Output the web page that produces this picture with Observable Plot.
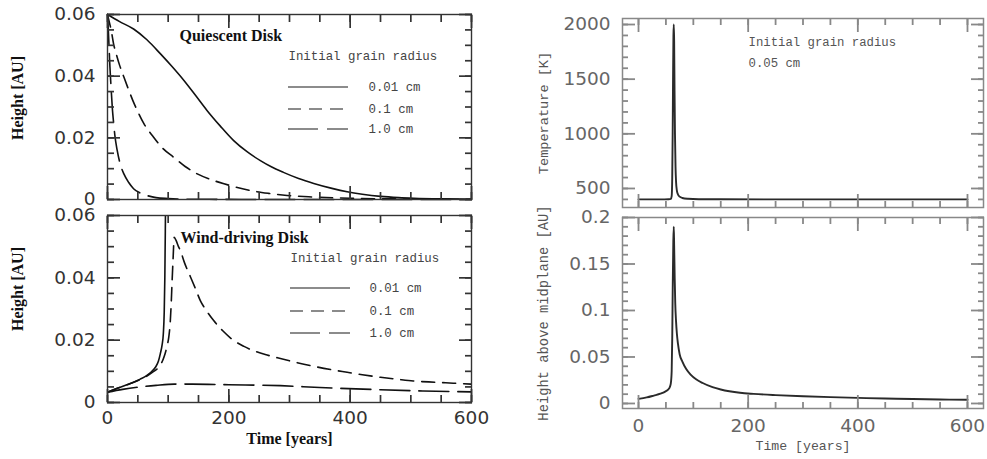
<!DOCTYPE html>
<html><head><meta charset="utf-8">
<script src="https://cdn.jsdelivr.net/npm/d3@7"></script>
<script src="https://cdn.jsdelivr.net/npm/@observablehq/plot@0.6"></script>
<style>
html,body{margin:0;padding:0;background:#fff;}
#chart{position:relative;width:987px;height:459px;overflow:hidden;background:#fff;}
#chart > svg{position:absolute;overflow:visible;background:transparent;}
</style></head><body><div id="chart"></div>
<script>
// ---------- Data ----------
// Quiescent disk (top-left)
const qTime001 = [0, 20, 43, 65, 87, 106, 126, 145, 164, 186, 208, 230, 252, 270, 290, 315, 340, 370, 395, 420, 450, 480, 505, 550, 600];
const qH001    = [0.06, 0.0577, 0.0553, 0.0518, 0.0473, 0.0432, 0.0386, 0.0338, 0.0289, 0.0238, 0.0191, 0.0155, 0.0126, 0.0106, 0.0088, 0.0068, 0.0052, 0.0036, 0.0025, 0.0017, 0.0010, 0.0006, 0.0004, 0.0002, 0.0001];
const qTime01  = [0, 3, 6, 10, 15, 20, 27, 35, 42, 49, 60, 76, 90, 109, 128, 148, 170, 192, 214, 236, 265, 296, 340, 400, 470, 540, 600];
const qH01     = [0.06, 0.0575, 0.055, 0.0505, 0.0468, 0.0435, 0.0397, 0.0355, 0.0320, 0.0289, 0.0246, 0.0202, 0.0168, 0.0137, 0.0107, 0.0083, 0.0065, 0.0051, 0.0039, 0.0029, 0.0020, 0.0013, 0.0008, 0.0004, 0.0002, 0.0001, 0.0001];
const qTime10  = [0, 1, 2, 3, 4, 6, 8, 10, 12, 16, 21, 27, 35, 43, 55, 65, 80, 100, 130, 180, 250, 600];
const qH10     = [0.06, 0.0565, 0.052, 0.0475, 0.043, 0.036, 0.0295, 0.025, 0.021, 0.0159, 0.0115, 0.0083, 0.0055, 0.0035, 0.002, 0.0013, 0.0006, 0.0003, 0.0001, 0.00005, 0, 0];
// Wind-driving disk (bottom-left)
const wTime001 = [0, 10, 21, 32, 43, 54, 65, 72, 79, 84, 87, 90, 92, 93.5, 94.5, 95.3, 96, 97];
const wH001    = [0.0033, 0.0041, 0.0049, 0.0057, 0.0065, 0.0075, 0.0087, 0.0098, 0.0113, 0.0133, 0.0156, 0.0185, 0.022, 0.029, 0.04, 0.055, 0.07, 0.085];
const wTime01  = [0, 10, 21, 32, 43, 54, 65, 75, 85, 93, 98, 101, 103.5, 105, 106.5, 108, 110, 113, 117, 120, 127, 137, 145, 153, 163, 175, 190, 208, 225, 241, 260, 285, 310, 340, 370, 395, 420, 450, 480, 504, 540, 570, 600];
const wH01     = [0.0033, 0.0041, 0.0049, 0.0057, 0.0065, 0.0074, 0.0085, 0.0098, 0.0115, 0.0145, 0.018, 0.021, 0.026, 0.0317, 0.039, 0.0456, 0.053, 0.052, 0.050, 0.0488, 0.0448, 0.0402, 0.0365, 0.0327, 0.0295, 0.0263, 0.0230, 0.0199, 0.0180, 0.0166, 0.0154, 0.0141, 0.0129, 0.0116, 0.0105, 0.0097, 0.0089, 0.0081, 0.0074, 0.0069, 0.0065, 0.0062, 0.0059];
const wTime10  = [0, 25, 50, 80, 110, 140, 200, 285, 350, 450, 520, 600];
const wH10     = [0.0033, 0.0042, 0.0049, 0.0055, 0.0059, 0.0059, 0.0057, 0.0054, 0.0048, 0.0041, 0.0037, 0.0034];
// Grain of 0.05 cm (right)
const tTime = [0, 30, 55, 59, 60.5, 61.5, 62.3, 63, 63.7, 64.3, 65, 65.7, 66.5, 67.5, 68.5, 70, 72, 75, 80, 90, 110, 150, 300, 600];
const tempK = [400, 400, 401, 405, 430, 600, 1000, 1500, 1900, 2000, 1850, 1400, 1000, 700, 560, 480, 445, 425, 413, 406, 402, 401, 400, 400];
const hTime = [0, 15, 28, 40, 48, 54, 57, 59, 60.5, 61.5, 62.5, 63.5, 64.3, 65, 66, 67, 68.5, 70, 72, 75, 80, 87, 95, 105, 117, 135, 150, 185, 210, 250, 300, 350, 400, 450, 500, 550, 600];
const hAbove = [0.005, 0.0065, 0.0085, 0.0105, 0.0125, 0.015, 0.0175, 0.022, 0.035, 0.07, 0.13, 0.175, 0.19, 0.17, 0.135, 0.108, 0.088, 0.075, 0.064, 0.053, 0.045, 0.037, 0.031, 0.026, 0.022, 0.0175, 0.015, 0.0115, 0.0103, 0.009, 0.0078, 0.0068, 0.006, 0.0053, 0.0048, 0.0043, 0.004];

// Tick labels
const timeTicks = [0, 200, 400, 600];
const timeMinor = [0, 50, 100, 150, 200, 250, 300, 350, 400, 450, 500, 550, 600];
const leftHTicks = [0, 0.02, 0.04, 0.06];
const leftHMinor = [0, 0.005, 0.01, 0.015, 0.02, 0.025, 0.03, 0.035, 0.04, 0.045, 0.05, 0.055, 0.06];
const tempTicks = [500, 1000, 1500, 2000];
const tempMinor = [400, 500, 600, 700, 800, 900, 1000, 1100, 1200, 1300, 1400, 1500, 1600, 1700, 1800, 1900, 2000];
const rightHTicks = [0, 0.05, 0.1, 0.15, 0.2];
const rightHMinor = [0, 0.01, 0.02, 0.03, 0.04, 0.05, 0.06, 0.07, 0.08, 0.09, 0.1, 0.11, 0.12, 0.13, 0.14, 0.15, 0.16, 0.17, 0.18, 0.19, 0.2];
const legendTitle = "Initial grain radius";
const legendLabels = ["0.01 cm", "0.1 cm", "1.0 cm"];

// ---------- Styles ----------
const SERIF = "'Liberation Serif','DejaVu Serif',serif";
const MONO = "'Liberation Mono','DejaVu Sans Mono',monospace";
const SANS = "'DejaVu Sans','Liberation Sans',sans-serif";
const DASH = ["none", "13,8", "30,9"];

const pts = (xs, ys) => xs.map((x, i) => ({x, y: ys[i]}));

// inward ticks on all four sides: Plot axis ticks shifted inside the frame by their own length
function frameTicks(xMaj, xMin, yMaj, yMin, LM, Lm, color, sw) {
  const base = {tickFormat: () => "", label: null, color, strokeWidth: sw, fontSize: 1};
  return [
    Plot.axisX({...base, ticks: xMin, anchor: "bottom", tickSize: Lm, dy: -Lm}),
    Plot.axisX({...base, ticks: xMin, anchor: "top", tickSize: Lm, dy: Lm}),
    Plot.axisY({...base, ticks: yMin, anchor: "left", tickSize: Lm, dx: Lm}),
    Plot.axisY({...base, ticks: yMin, anchor: "right", tickSize: Lm, dx: -Lm}),
    Plot.axisX({...base, ticks: xMaj, anchor: "bottom", tickSize: LM, dy: -LM}),
    Plot.axisX({...base, ticks: xMaj, anchor: "top", tickSize: LM, dy: LM}),
    Plot.axisY({...base, ticks: yMaj, anchor: "left", tickSize: LM, dx: LM}),
    Plot.axisY({...base, ticks: yMaj, anchor: "right", tickSize: LM, dx: -LM})
  ];
}

function legendMark(dx1, dx2, dys, color) {
  return (index, scales, values, dim) => {
    const g = d3.create("svg:g");
    dys.forEach((dy, i) => {
      g.append("line")
        .attr("x1", dim.marginLeft + dx1).attr("x2", dim.marginLeft + dx2)
        .attr("y1", dim.marginTop + dy).attr("y2", dim.marginTop + dy)
        .attr("stroke", color).attr("stroke-width", 1.3)
        .attr("stroke-dasharray", DASH[i]);
    });
    return g.node();
  };
}

function txt(s, o) {
  return Plot.text([s], {text: d => d, frameAnchor: "top-left", textAnchor: "start", lineAnchor: "middle", ...o});
}
function ytitle(s, o) {
  return Plot.text([s], {text: d => d, frameAnchor: "left", textAnchor: "middle", lineAnchor: "middle", rotate: -90, ...o});
}

function place(svg, left, top) {
  svg.style.left = left + "px";
  svg.style.top = top + "px";
  document.getElementById("chart").appendChild(svg);
}

const leftFmt = d => d === 0 ? "0" : d.toFixed(2);
const LC = "#111";
const LX = [0, 600], LY = [0, 0.06];
const TF = 18.5;
const TICKL = "#333", RC = "#888";

// ---------- Top-left: Quiescent Disk ----------
{
  const W = 490, H = 212, m = {top: 14, right: 19, bottom: 13, left: 107};
  const p = Plot.plot({
    width: W, height: H, marginTop: m.top, marginRight: m.right, marginBottom: m.bottom, marginLeft: m.left,
    style: {background: "transparent"},
    x: {domain: LX}, y: {domain: LY},
    marks: [
      Plot.line(pts(qTime001, qH001), {x: "x", y: "y", stroke: LC, strokeWidth: 1.6, curve: "monotone-x"}),
      Plot.line(pts(qTime01, qH01), {x: "x", y: "y", stroke: LC, strokeWidth: 1.6, strokeDasharray: DASH[1], curve: "monotone-x"}),
      Plot.line(pts(qTime10, qH10), {x: "x", y: "y", stroke: LC, strokeWidth: 1.6, strokeDasharray: DASH[2], curve: "monotone-x"}),
      Plot.frame({stroke: "#333", strokeWidth: 1.4}),
      ...frameTicks(timeTicks, timeMinor, leftHTicks, leftHMinor, 13, 7, TICKL, 1.7),
      Plot.axisY({ticks: leftHTicks, tickFormat: leftFmt, tickSize: 0, tickPadding: 12, fontSize: TF, fontFamily: SANS, color: "#333", label: null}),
      ytitle("Height [AU]", {dx: -90, dy: -9, fontFamily: SERIF, fontWeight: "bold", fontSize: 16, fill: "#111"}),
      txt("Quiescent Disk", {dx: 72, dy: 21, fontFamily: SERIF, fontWeight: "bold", fontSize: 16, fill: "#111"}),
      txt(legendTitle, {dx: 181, dy: 42, fontFamily: MONO, fontSize: 12.4, fill: "#444"}),
      ...legendLabels.map((s, i) => txt(s, {dx: 261, dy: [73, 95, 115][i], fontFamily: MONO, fontSize: 12.4, fill: "#444"})),
      legendMark(181, 241, [73, 95, 115], "#666")
    ]
  });
  place(p, 0, 0);
}

// ---------- Bottom-left: Wind-driving Disk ----------
{
  const W = 490, H = 247, m = {top: 3, right: 19, bottom: 57, left: 107};
  const p = Plot.plot({
    width: W, height: H, marginTop: m.top, marginRight: m.right, marginBottom: m.bottom, marginLeft: m.left,
    style: {background: "transparent"},
    x: {domain: LX}, y: {domain: LY},
    marks: [
      Plot.line(pts(wTime001, wH001), {x: "x", y: "y", stroke: LC, strokeWidth: 1.6, curve: "monotone-x", clip: true}),
      Plot.line(pts(wTime01, wH01), {x: "x", y: "y", stroke: LC, strokeWidth: 1.6, strokeDasharray: DASH[1], curve: "monotone-x", clip: true}),
      Plot.line(pts(wTime10, wH10), {x: "x", y: "y", stroke: LC, strokeWidth: 1.6, strokeDasharray: DASH[2], curve: "monotone-x", clip: true}),
      Plot.frame({stroke: "#333", strokeWidth: 1.4}),
      ...frameTicks(timeTicks, timeMinor, leftHTicks, leftHMinor, 13, 7, TICKL, 1.7),
      Plot.axisY({ticks: leftHTicks, tickFormat: leftFmt, tickSize: 0, tickPadding: 12, fontSize: TF, fontFamily: SANS, color: "#333", label: null}),
      Plot.axisX({ticks: timeTicks, tickFormat: d => String(d), tickSize: 0, tickPadding: 8, fontSize: TF, fontFamily: SANS, color: "#333", label: null}),
      ytitle("Height [AU]", {dx: -90, dy: -20, fontFamily: SERIF, fontWeight: "bold", fontSize: 16, fill: "#111"}),
      Plot.text(["Time [years]"], {text: d => d, frameAnchor: "bottom", dy: 41, fontFamily: SERIF, fontWeight: "bold", fontSize: 16, fill: "#111"}),
      txt("Wind-driving Disk", {dx: 73, dy: 22, fontFamily: SERIF, fontWeight: "bold", fontSize: 16, fill: "#111"}),
      txt(legendTitle, {dx: 183, dy: 43, fontFamily: MONO, fontSize: 12.4, fill: "#444"}),
      ...legendLabels.map((s, i) => txt(s, {dx: 262, dy: [73, 96, 118][i], fontFamily: MONO, fontSize: 12.4, fill: "#444"})),
      legendMark(183, 243, [73, 96, 118], "#666")
    ]
  });
  place(p, 0, 212);
}

// ---------- Top-right: Temperature ----------
const RX = [-29.2, 629.2];
{
  const W = 487, H = 212, m = {top: 18, right: 4, bottom: 5, left: 122};
  const RY = [326, 2055];
  const p = Plot.plot({
    width: W, height: H, marginTop: m.top, marginRight: m.right, marginBottom: m.bottom, marginLeft: m.left,
    style: {background: "transparent"},
    x: {domain: RX}, y: {domain: RY},
    marks: [
      Plot.line(pts(tTime, tempK), {x: "x", y: "y", stroke: "#2a2a2a", strokeWidth: 1.9, curve: "monotone-x"}),
      Plot.frame({stroke: RC, strokeWidth: 1.5}),
      ...frameTicks(timeTicks, timeMinor, tempTicks, tempMinor, 13, 6, RC, 1.8),
      Plot.axisY({ticks: tempTicks, tickFormat: d => String(d), tickSize: 0, tickPadding: 12, fontSize: TF, fontFamily: SANS, color: "#666", label: null}),
      ytitle("Temperature [K]", {dx: -79, fontFamily: MONO, fontSize: 13.6, fill: "#555"}),
      txt(legendTitle, {dx: 126, dy: 24, fontFamily: MONO, fontSize: 12.3, fill: "#555"}),
      txt("0.05 cm", {dx: 126, dy: 45, fontFamily: MONO, fontSize: 12.3, fill: "#555"})
    ]
  });
  place(p, 500, 0);
}

// ---------- Bottom-right: Height above midplane ----------
{
  const W = 487, H = 247, m = {top: 5, right: 4, bottom: 51, left: 122};
  const RY = [-0.0054, 0.2];
  const p = Plot.plot({
    width: W, height: H, marginTop: m.top, marginRight: m.right, marginBottom: m.bottom, marginLeft: m.left,
    style: {background: "transparent"},
    x: {domain: RX}, y: {domain: RY},
    marks: [
      Plot.line(pts(hTime, hAbove), {x: "x", y: "y", stroke: "#2a2a2a", strokeWidth: 1.9, curve: "monotone-x"}),
      Plot.frame({stroke: RC, strokeWidth: 1.5}),
      ...frameTicks(timeTicks, timeMinor, rightHTicks, rightHMinor, 13, 6, RC, 1.8),
      Plot.axisY({ticks: rightHTicks, tickFormat: d => String(d), tickSize: 0, tickPadding: 12, fontSize: TF, fontFamily: SANS, color: "#666", label: null}),
      Plot.axisX({ticks: timeTicks, tickFormat: d => String(d), tickSize: 0, tickPadding: 10, fontSize: TF, fontFamily: SANS, color: "#666", label: null}),
      ytitle("Height above midplane [AU]", {dx: -79, fontFamily: MONO, fontSize: 13.8, fill: "#555"}),
      Plot.text(["Time [years]"], {text: d => d, frameAnchor: "bottom", dy: 41, fontFamily: MONO, fontSize: 13.2, fill: "#555"})
    ]
  });
  place(p, 500, 212);
}
</script></body></html>
